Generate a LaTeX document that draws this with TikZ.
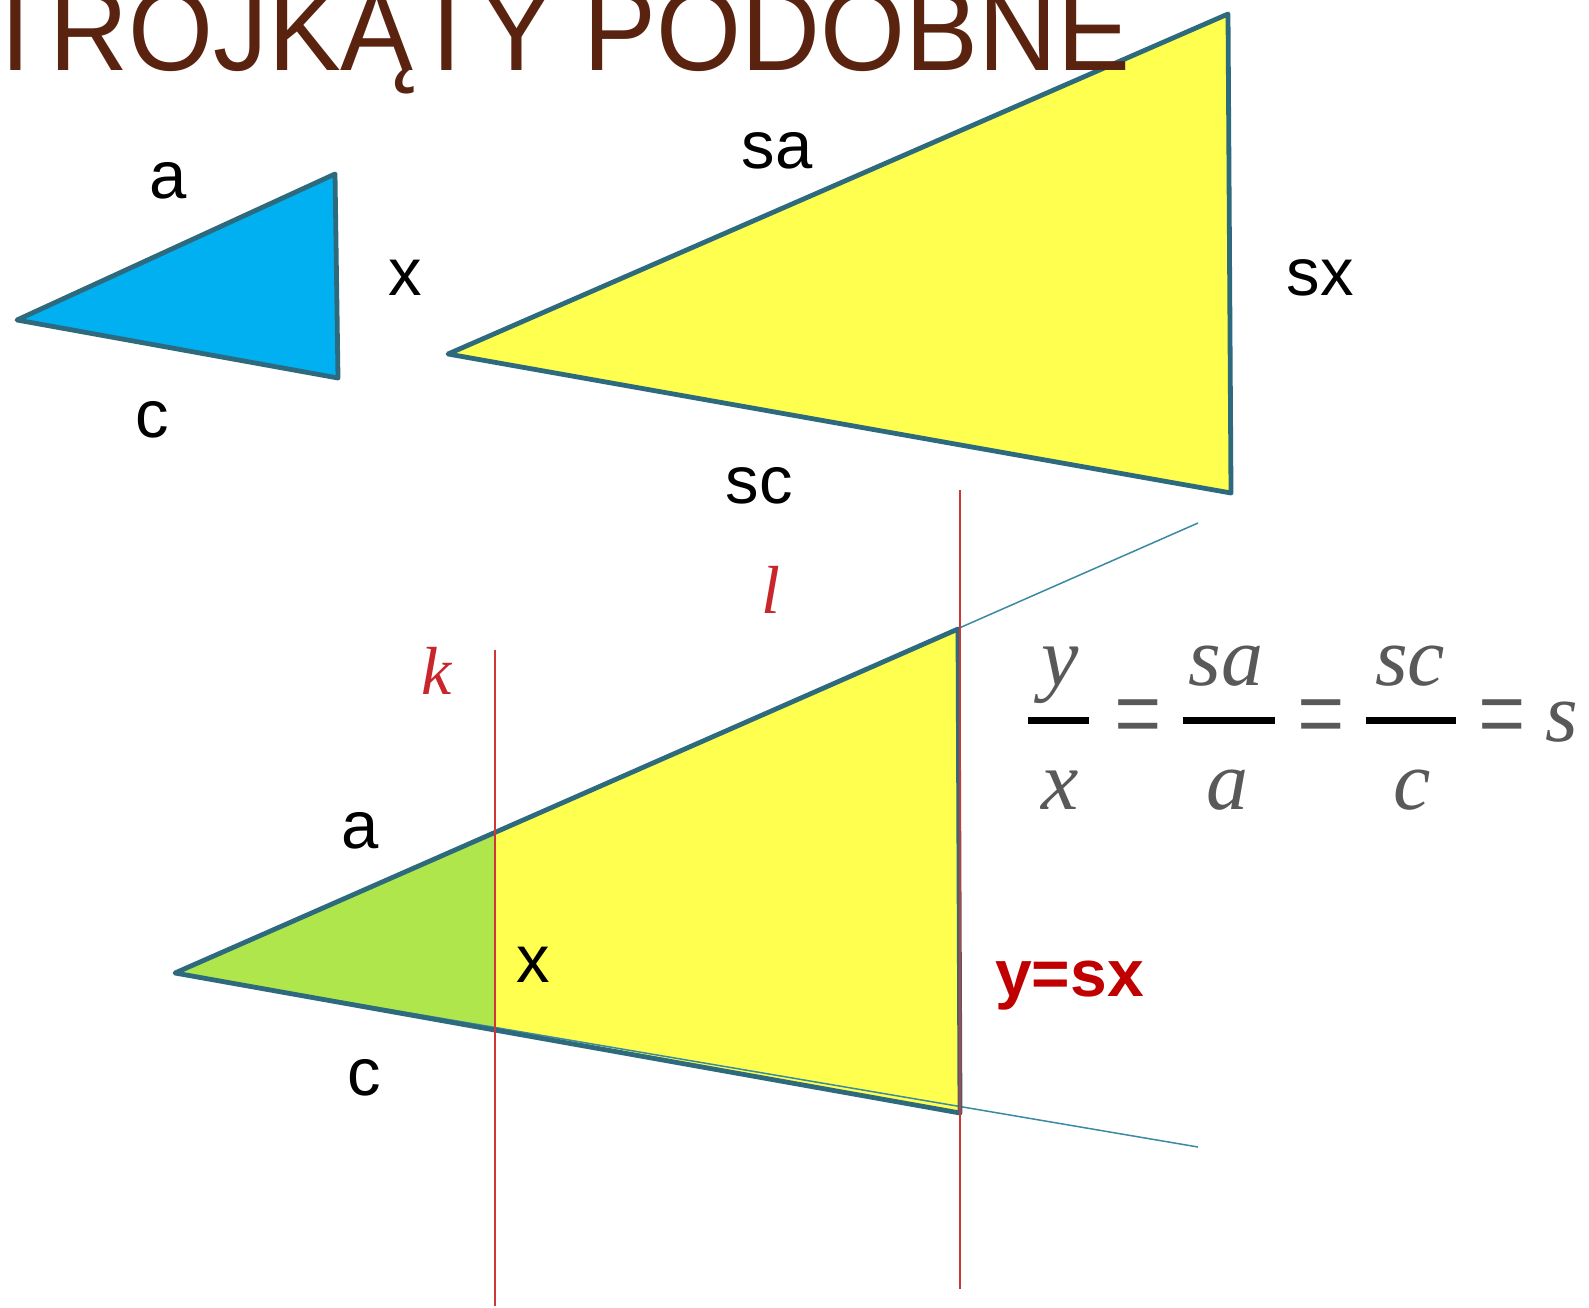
\documentclass[tikz,border=0pt]{standalone}
\usepackage{fontspec}
\setmainfont{Liberation Sans}
\newfontfamily\tms{Liberation Serif}
\definecolor{titlebrown}{HTML}{5A2310}
\definecolor{edge}{HTML}{2E6A7E}
\definecolor{rayc}{HTML}{3A8AA3}
\definecolor{bluef}{HTML}{00B0F0}
\definecolor{yellowf}{HTML}{FFFF4F}
\definecolor{greenf}{HTML}{AFE64B}
\definecolor{redline}{HTML}{CC3838}
\definecolor{redtxt}{HTML}{C8262A}
\definecolor{darkred}{HTML}{C00000}
\definecolor{frmgray}{HTML}{595959}
\tikzset{
  lbl/.style={inner sep=0pt, anchor=base, font=\fontsize{67}{70}\selectfont},
  redlbl/.style={inner sep=0pt, anchor=base, text=redtxt, font=\tms\itshape\fontsize{68}{70}\selectfont},
  frm/.style={inner sep=0pt, anchor=base, text=frmgray, font=\tms\itshape\fontsize{84}{90}\selectfont},
  eqsign/.style={inner sep=0pt, anchor=base, text=frmgray, font=\tms\fontsize{84}{90}\selectfont},
  tri/.style={draw=edge, line width=4.8pt, line join=round},
  ray/.style={draw=rayc, line width=1.5pt},
  guide/.style={draw=redline, line width=2pt},
  fbar/.style={draw=black, line width=7pt},
}
\newcommand{\tallEq}{\scalebox{1}[1.4]{=}}
\begin{document}
\begin{tikzpicture}[x=1pt,y=-1pt]
\useasboundingbox (0,0) rectangle (1589,1308);
\fill[white] (0,0) rectangle (1589,1308);

% small blue triangle
\coordinate (A1) at (17,320);
\coordinate (B1) at (335,174);
\coordinate (C1) at (338,378);
\path[tri, fill=bluef] (A1) -- (B1) -- (C1) -- cycle;

% big yellow triangle
\coordinate (A2) at (448,354);
\coordinate (B2) at (1228,14);
\coordinate (C2) at (1231,493);
\path[tri, fill=yellowf] (A2) -- (B2) -- (C2) -- cycle;

% title (drawn over the triangle)
\node[inner sep=0pt, anchor=base west, text=titlebrown, font=\fontsize{116}{120}\selectfont] (title) at (-17.5,71) {\scalebox{0.942}[1]{TROJKĄTY PODOBNE}};

% labels top
\node[lbl] (la1) at (168,199) {a};
\node[lbl] (lx1) at (405,295) {x};
\node[lbl] (lc1) at (152,437) {c};
\node[lbl] (lsa) at (777,169) {sa};
\node[lbl] (lsx) at (1320,295) {sx};
\node[lbl] (lsc) at (759,503) {sc};

% bottom figure
\coordinate (A3) at (175,973);
\coordinate (B3) at (958,629);
\coordinate (C3) at (960,1113);
\coordinate (G1) at (495,832.4);
\coordinate (G2) at (495,1030);
\coordinate (R1) at (1198,523);
\coordinate (R2) at (1198,1147);
\fill[yellowf] (A3) -- (B3) -- (C3) -- cycle;
\fill[greenf] (A3) -- (G1) -- (G2) -- cycle;
\draw[ray] (A3) -- (R1);
\draw[ray] (A3) -- (R2);
\path[tri] (A3) -- (B3) -- (C3) -- cycle;

% red guide lines
\coordinate (kt) at (495,650);
\coordinate (kb) at (495,1306);
\coordinate (lt) at (960,490);
\coordinate (lb) at (960,1289);
\draw[guide] (kt) -- (kb);
\draw[guide] (lt) -- (lb);
\node[redlbl] (lk) at (437,694) {k};
\node[redlbl] (ll) at (771,613) {l};

% bottom labels
\node[lbl] (la2) at (360,848) {a};
\node[lbl] (lx2) at (533,982) {x};
\node[lbl] (lc2) at (364,1095) {c};
\node[inner sep=0pt, anchor=base west, text=darkred, font=\bfseries\fontsize{66}{70}\selectfont] (ysx) at (995,996) {y=sx};

% formula
\coordinate (b1l) at (1028,720); \coordinate (b1r) at (1089,720);
\coordinate (b2l) at (1183,720); \coordinate (b2r) at (1275,720);
\coordinate (b3l) at (1366,720); \coordinate (b3r) at (1456,720);
\draw[fbar] (b1l) -- (b1r);
\draw[fbar] (b2l) -- (b2r);
\draw[fbar] (b3l) -- (b3r);
\node[frm] (fy) at (1060,685) {y};
\node[frm] (fx) at (1060,809) {x};
\node[eqsign] (e1) at (1138,753.5) {\tallEq};
\node[frm] (fsa) at (1226,685) {sa};
\node[frm] (fa) at (1227,809) {a};
\node[eqsign] (e2) at (1321,753.5) {\tallEq};
\node[frm] (fsc) at (1410,685) {sc};
\node[frm] (fc) at (1412,809) {c};
\node[eqsign] (e3) at (1502,753.5) {\tallEq};
\node[frm] (fs) at (1562,741) {s};
\end{tikzpicture}
\end{document}
